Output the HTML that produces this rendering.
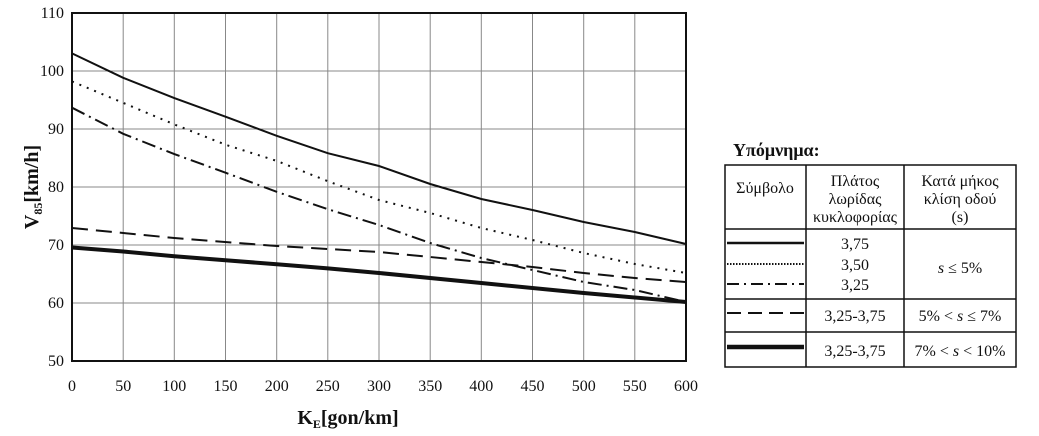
<!DOCTYPE html><html><head><meta charset="utf-8"><style>body{margin:0;background:#fff}svg{display:block}text{font-family:"Liberation Serif",serif;fill:#111}</style></head><body>
<svg width="1039" height="436" viewBox="0 0 1039 436">
<g stroke="#888" stroke-width="1">
<line x1="123.2" y1="13" x2="123.2" y2="361"/><line x1="174.3" y1="13" x2="174.3" y2="361"/><line x1="225.5" y1="13" x2="225.5" y2="361"/><line x1="276.7" y1="13" x2="276.7" y2="361"/><line x1="327.8" y1="13" x2="327.8" y2="361"/><line x1="379" y1="13" x2="379" y2="361"/><line x1="430.2" y1="13" x2="430.2" y2="361"/><line x1="481.3" y1="13" x2="481.3" y2="361"/><line x1="532.5" y1="13" x2="532.5" y2="361"/><line x1="583.7" y1="13" x2="583.7" y2="361"/><line x1="634.8" y1="13" x2="634.8" y2="361"/>
<line x1="72" y1="71" x2="686" y2="71"/><line x1="72" y1="129" x2="686" y2="129"/><line x1="72" y1="187" x2="686" y2="187"/><line x1="72" y1="245" x2="686" y2="245"/><line x1="72" y1="303" x2="686" y2="303"/>
</g>
<rect x="72" y="13" width="614" height="348" fill="none" stroke="#111" stroke-width="2"/>
<g font-size="16" text-anchor="end">
<text x="64" y="18">110</text><text x="64" y="76">100</text><text x="64" y="134">90</text><text x="64" y="192">80</text><text x="64" y="250">70</text><text x="64" y="308">60</text><text x="64" y="366">50</text></g>
<g font-size="16" text-anchor="middle">
<text x="72" y="391">0</text><text x="123.2" y="391">50</text><text x="174.3" y="391">100</text><text x="225.5" y="391">150</text><text x="276.7" y="391">200</text><text x="327.8" y="391">250</text><text x="379" y="391">300</text><text x="430.2" y="391">350</text><text x="481.3" y="391">400</text><text x="532.5" y="391">450</text><text x="583.7" y="391">500</text><text x="634.8" y="391">550</text><text x="686" y="391">600</text></g>
<text x="348" y="424" font-size="20" font-weight="bold" text-anchor="middle">K<tspan font-size="12" dy="4">E</tspan><tspan dy="-4">[gon/km]</tspan></text>
<text transform="translate(38,187) rotate(-90)" font-size="20" font-weight="bold" text-anchor="middle">V<tspan font-size="12" dy="4">85</tspan><tspan dy="-4">[km/h]</tspan></text>
<g fill="none" stroke="#111">
<polyline stroke-width="2" points="72,53.4 123.2,77.8 174.3,98.1 225.5,116.7 276.7,135.8 327.8,153.2 379,166 430.2,184 481.3,199 532.5,210 583.7,222 634.8,232 686,244"/>
<polyline stroke-width="2" stroke-dasharray="2,6" points="72,81.4 123.2,102.9 174.3,124.4 225.5,144.7 276.7,160.9 327.8,181.2 379,200 430.2,213 481.3,228 532.5,240 583.7,253 634.8,264 686,273"/>
<polyline stroke-width="2" stroke-dasharray="14,5,2,5" points="72,107.7 123.2,133.8 174.3,154.1 225.5,172.7 276.7,191.8 327.8,209.2 379,225 430.2,243 481.3,258 532.5,270 583.7,282 634.8,290 686,302"/>
<polyline stroke-width="2" stroke-dasharray="16,8" points="72,228 174.3,238 276.7,246 379,252 481.3,262 532.5,267 583.7,273 634.8,278 686,282"/>
<polyline stroke-width="4" points="72,247.5 123.2,251.5 174.3,256.2 225.5,260.2 276.7,264.3 327.8,268.4 379,273 481.3,283 583.7,293 686,302"/>
</g>
<text x="733" y="156" font-size="18" font-weight="bold">Υπόμνημα:</text>
<g stroke="#111" stroke-width="1.5" fill="none">
<rect x="725" y="165" width="291" height="202"/>
<line x1="806" y1="165" x2="806" y2="367"/><line x1="904" y1="165" x2="904" y2="367"/>
<line x1="725" y1="229" x2="1016" y2="229"/><line x1="725" y1="299" x2="1016" y2="299"/><line x1="725" y1="332" x2="1016" y2="332"/>
</g>
<g stroke="#111" fill="none">
<line x1="727" y1="243" x2="804" y2="243" stroke-width="2.5"/>
<line x1="727" y1="264" x2="804" y2="264" stroke-width="2" stroke-dasharray="1.5,1.5"/>
<line x1="727" y1="284" x2="804" y2="284" stroke-width="2" stroke-dasharray="12,5,2,5"/>
<line x1="727" y1="313" x2="804" y2="313" stroke-width="2" stroke-dasharray="14,7"/>
<line x1="727" y1="347" x2="804" y2="347" stroke-width="4.5"/>
</g>
<g font-size="16" text-anchor="middle">
<text x="765" y="193">Σύμβολο</text>
<text x="855" y="186">Πλάτος</text><text x="855" y="204">λωρίδας</text><text x="855" y="222">κυκλοφορίας</text>
<text x="960" y="186">Κατά μήκος</text><text x="960" y="204">κλίση οδού</text><text x="960" y="222">(s)</text>
<text x="855" y="249">3,75</text><text x="855" y="270">3,50</text><text x="855" y="290">3,25</text>
<text x="960" y="273"><tspan font-style="italic">s</tspan> ≤ 5%</text>
<text x="855" y="321">3,25-3,75</text><text x="960" y="321">5% &lt; <tspan font-style="italic">s</tspan> ≤ 7%</text>
<text x="855" y="356">3,25-3,75</text><text x="960" y="356">7% &lt; <tspan font-style="italic">s</tspan> &lt; 10%</text>
</g>
</svg></body></html>
